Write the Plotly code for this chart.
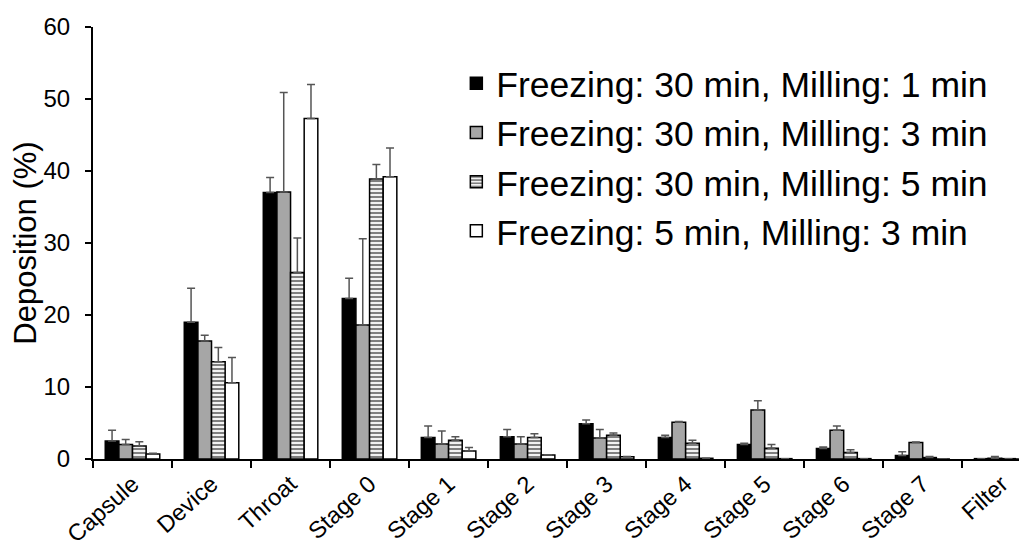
import plotly.graph_objects as go

categories = ["Capsule", "Device", "Throat", "Stage 0", "Stage 1", "Stage 2",
              "Stage 3", "Stage 4", "Stage 5", "Stage 6", "Stage 7", "Filter"]

series_names = [
    "Freezing: 30 min, Milling: 1 min",
    "Freezing: 30 min, Milling: 3 min",
    "Freezing: 30 min, Milling: 5 min",
    "Freezing: 5 min, Milling: 3 min",
]

f30_m1 = [2.5, 19.0, 37.0, 22.3, 3.0, 3.1, 4.9, 3.0, 2.0, 1.45, 0.5, 0.05]
f30_m1_sd = [1.5, 4.7, 2.1, 2.8, 1.6, 1.0, 0.5, 0.3, 0.2, 0.2, 0.5, 0.0]

f30_m3 = [2.0, 16.4, 37.1, 18.6, 2.1, 2.1, 2.9, 5.1, 6.8, 4.0, 2.3, 0.1]
f30_m3_sd = [0.7, 0.8, 13.8, 12.0, 1.8, 1.0, 1.2, 0.1, 1.3, 0.6, 0.05, 0.25]

f30_m5 = [1.8, 13.5, 25.9, 38.9, 2.6, 3.0, 3.3, 2.2, 1.5, 0.9, 0.2, 0.05]
f30_m5_sd = [0.6, 2.0, 4.8, 2.0, 0.5, 0.5, 0.3, 0.4, 0.5, 0.4, 0.15, 0.0]

f5_m3 = [0.7, 10.6, 47.3, 39.2, 1.1, 0.55, 0.3, 0.1, 0.05, 0.05, 0.0, 0.0]
f5_m3_sd = [0.1, 3.5, 4.7, 4.0, 0.5, 0.05, 0.05, 0.0, 0.0, 0.0, 0.0, 0.0]

values = [f30_m1, f30_m3, f30_m5, f5_m3]
errors = [f30_m1_sd, f30_m3_sd, f30_m5_sd, f5_m3_sd]
fills = ["#000000", "#a6a6a6", "#ffffff", "#ffffff"]
patterns = ["", "", "-", ""]

fig = go.Figure()
for i, name in enumerate(series_names):
    marker = dict(color=fills[i], line=dict(color="#000000", width=1.5))
    if patterns[i]:
        marker["pattern"] = dict(shape="-", fgcolor="#000000", bgcolor="#ffffff",
                                 size=4, solidity=0.55, fillmode="overlay")
    fig.add_trace(go.Bar(
        x=categories, y=values[i], name=name, marker=marker,
        legendgroup=str(i),
        error_y=dict(type="data", symmetric=False, array=errors[i],
                     arrayminus=[0] * len(errors[i]),
                     color="#555555", thickness=1.5, width=4),
    ))

font_family = "Arial, Liberation Sans, sans-serif"
fig.update_layout(
    width=1019, height=542,
    margin=dict(l=85, r=0, t=19, b=91),
    paper_bgcolor="white", plot_bgcolor="white",
    barmode="group", bargap=0.31, bargroupgap=0,
    font=dict(family=font_family, color="#000000"),
    showlegend=True,
    legend=dict(x=0.389, y=0.938, xanchor="left", yanchor="top",
                font=dict(size=35.5, family=font_family, color="#000000"),
                tracegroupgap=0, bgcolor="rgba(0,0,0,0)",
                itemwidth=30),
    xaxis=dict(range=[-0.5, 11.32], showline=True, linecolor="#000000", linewidth=2,
               ticks="outside", tickson="boundaries", ticklen=7, tickwidth=2,
               tickcolor="#000000", tickangle=-42, ticklabelstandoff=0,
               automargin=False,
               tickfont=dict(size=23.5, family=font_family), showgrid=False),
    yaxis=dict(range=[0, 60], dtick=10, showline=True, linecolor="#000000", linewidth=2,
               ticks="outside", ticklen=6, tickwidth=2, tickcolor="#000000",
               ticklabelstandoff=10, automargin=False,
               tickfont=dict(size=24, family=font_family), showgrid=False, zeroline=False,
               title=dict(text="Deposition (%)", font=dict(size=31, family=font_family),
                          standoff=8)),
)

fig.write_html("out.html")
